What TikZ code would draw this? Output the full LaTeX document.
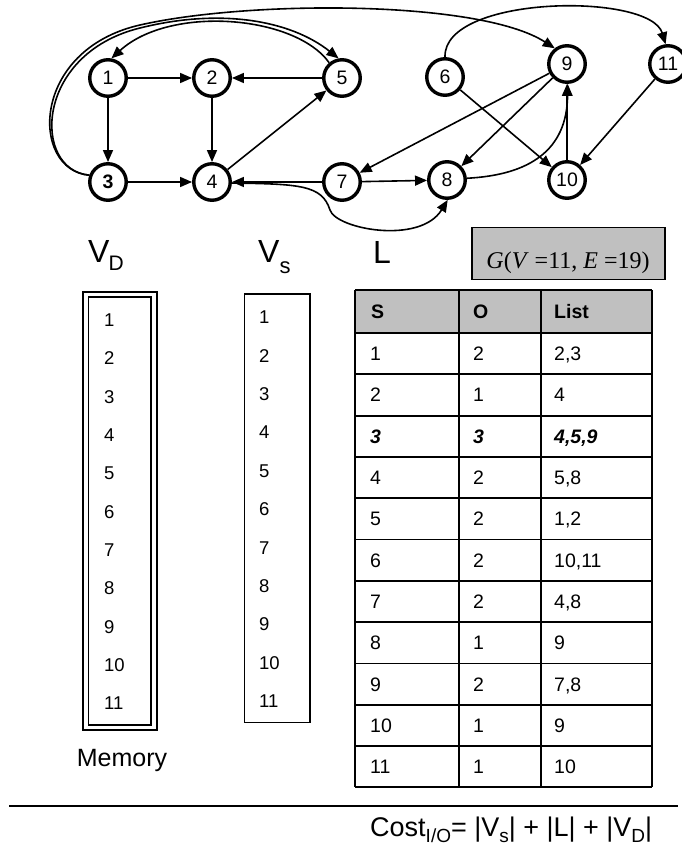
\documentclass[tikz,border=0pt]{standalone}
\usepackage{fontspec}
\setmainfont{Liberation Sans}
\newfontfamily\timesfont{Liberation Serif}
\usetikzlibrary{arrows.meta}
\definecolor{boxgray}{RGB}{192,192,192}
% lowered, smaller text: #1 drop (pt), #2 size (pt), #3 text
\newcommand{\mysub}[3]{\raisebox{-#1pt}{\fontsize{#2}{#2}\selectfont #3}}
\newcommand{\fs}[1]{\fontsize{#1}{#1}\selectfont}
\begin{document}
\begin{tikzpicture}[x=1pt,y=-1pt,
  vtx/.style={circle,draw,line width=3.4pt,minimum size=36.5pt,inner sep=0pt,font=\fs{19.5}},
  edge/.style={line width=1.6pt,-{Triangle[length=12pt,width=10pt]}},
  cell/.style={anchor=base west,inner sep=0pt,font=\fs{19.5}},
  listnum/.style={anchor=base west,inner sep=0pt,font=\fs{18.5}},
  grid/.style={line width=1.8pt},
  lbl/.style={anchor=base west,inner sep=0pt,font=\fs{32}}
]
\useasboundingbox (0,0) rectangle (682,848);

% ---------- graph ----------
\node[vtx] (n1)  at (108,78)  {1};
\node[vtx] (n2)  at (212,78)  {2};
\node[vtx] (n5)  at (342,78)  {5};
\node[vtx] (n3)  at (108,182) {\textbf{3}};
\node[vtx] (n4)  at (212,182) {4};
\node[vtx] (n7)  at (342,182) {7};
\node[vtx] (n6)  at (445,77)  {6};
\node[vtx] (n9)  at (567,64)  {9};
\node[vtx] (n11) at (668,64)  {11};
\node[vtx] (n8)  at (447,180) {8};
\node[vtx] (n10) at (567,180) {10};

\draw[edge] (n1) -- (n2);
\draw[edge] (n1) -- (n3);
\draw[edge] (n5) -- (n2);
\draw[edge] (n2) -- (n4);
\draw[edge] (n3) -- (n4);
\draw[edge] (n4) -- (n5);
\draw[edge] (n7) -- (n4);
\draw[edge] (n7) -- (n8);
\draw[edge] (n9) -- (n7);
\draw[edge] (n9) -- (n8);
\draw[edge] (n6) -- (n10);
\draw[edge] (n10) -- (n9);
\draw[edge] (n11) -- (n10);

% long arcs
\draw[edge] (n3.160) .. controls (30,170) and (30,50) .. (140,25)
            .. controls (250,0) and (480,0) .. (n9.128);
\draw[edge] (n3.160) .. controls (32,170) and (34,54) .. (140,28)
            .. controls (220,8) and (290,20) .. (n5.100);
\draw[edge] (n5.130) .. controls (295,15) and (170,5) .. (n1.80);
\draw[edge] (n6.90) .. controls (443,-5) and (650,-8) .. (n11.97);
\draw[edge] (n8.5) .. controls (530,175) and (567,150) .. (n9.-88);
\draw[edge] (n4.-3) .. controls (300,184) and (322,185) .. (330,210)
            .. controls (336,229) and (420,245) .. (n8.-88);

% ---------- labels ----------
\node[lbl] (vdlbl) at (88,262.7) {V\kern-1pt\mysub{7.3}{21}{D}};
\node[lbl] (vslbl) at (258,262.7) {V\mysub{10.6}{22}{s}};
\node[lbl] (llbl) at (373,263.3) {L};

\draw[line width=1.6pt,fill=boxgray] (471.7,227.3) rectangle (665,279.3);
\node[inner sep=0pt,anchor=base,font=\timesfont\fs{24}] (gtitle) at (568,268.3)
  {\textit{G}(\textit{V} =11, \textit{E} =19)};

% ---------- V_D (memory) ----------
\draw[line width=2.3pt] (83.3,291.7) rectangle (156.7,730);
\draw[line width=1.6pt] (88.3,296.7) rectangle (151,725);
\foreach \k in {1,...,11}{
  \node[listnum] (vd\k) at (104,{320+38.3*(\k-1)+6.6}) {\k};
}
\node[anchor=base,inner sep=0pt,font=\fs{25}] (mem) at (122,766.7) {Memory};

% ---------- V_s ----------
\draw[line width=1.3pt] (244.3,294) rectangle (310,722.7);
\foreach \k in {1,...,11}{
  \node[listnum] (vs\k) at (259,{317+38.4*(\k-1)+6.6}) {\k};
}

% ---------- L table ----------
\fill[boxgray] (355,290) rectangle (652,333);
\foreach \r in {0,...,11}{
  \draw[grid] (355,{333+41.3*\r}) -- (652,{333+41.3*\r});
}
\draw[grid] (355,290) -- (652,290);
\draw[grid] (355,290) -- (355,787.3);
\draw[grid] (459,290) -- (459,787.3);
\draw[grid] (541,290) -- (541,787.3);
\draw[grid] (652,290) -- (652,787.3);

\node[cell,font=\fs{19.5}\bfseries] (hs) at (371,318.5) {S};
\node[cell,font=\fs{19.5}\bfseries] (ho) at (473,318.5) {O};
\node[cell,font=\fs{19.5}\bfseries] (hl) at (554,318.5) {List};

\foreach \s/\o/\l in {1/2/{2,3},2/1/4,4/2/{5,8},5/2/{1,2},6/2/{10,11},
                      7/2/{4,8},8/1/9,9/2/{7,8},10/1/9,11/1/10}{
  \node[cell] (s\s) at (370,{333+41.3*(\s-0.5)+7}) {\s};
  \node[cell] (o\s) at (473,{333+41.3*(\s-0.5)+7}) {\o};
  \node[cell] (l\s) at (554,{333+41.3*(\s-0.5)+7}) {\l};
}
\node[cell,font=\fs{19.5}\bfseries\itshape] (s3) at (370,{333+41.3*2.5+7}) {3};
\node[cell,font=\fs{19.5}\bfseries\itshape] (o3) at (473,{333+41.3*2.5+7}) {3};
\node[cell,font=\fs{19.5}\bfseries\itshape] (l3) at (554,{333+41.3*2.5+7}) {4,5,9};

% ---------- cost ----------
\draw[line width=1.5pt] (9,806) -- (678,806);
\node[anchor=base west,inner sep=0pt,font=\fs{27}] (cost) at (370,836)
  {Cost\mysub{6}{19}{I/O}= |V\mysub{6}{19}{s}| + |L| + |V\mysub{6}{19}{D}|};
\end{tikzpicture}
\end{document}
